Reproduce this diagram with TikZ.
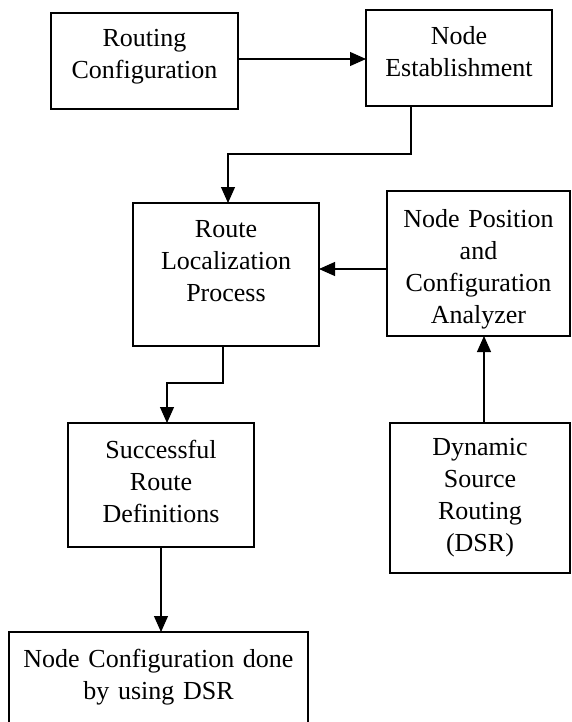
\documentclass[tikz,border=0pt]{standalone}
\usepackage{fontspec}
\setmainfont{Liberation Serif}
\usetikzlibrary{arrows.meta,calc}
\begin{document}
\begin{tikzpicture}[x=1pt,y=-1pt,
  box/.style={draw=black, line width=1.1pt, inner sep=0pt, outer sep=0pt, anchor=north west},
  lbl/.style={inner sep=0pt, anchor=base, text width=280pt, align=center,
    font=\fontsize{26}{32}\selectfont},
  arr/.style={line width=1.1pt, -{Triangle[length=16pt,width=14pt]}}]
\clip (0,0) rectangle (571,722);
\fill[white] (0,0) rectangle (571,722);
% boxes
\node[box, minimum width=187pt, minimum height=96pt] (rc) at (51,13) {};
\node[box, minimum width=186pt, minimum height=96pt] (ne) at (366,10) {};
\node[box, minimum width=186pt, minimum height=143pt] (rl) at (133,203) {};
\node[box, minimum width=183pt, minimum height=145pt] (npca) at (387,191) {};
\node[box, minimum width=186pt, minimum height=124pt] (srd) at (68,423) {};
\node[box, minimum width=180pt, minimum height=150pt] (dsr) at (390,423) {};
\node[box, minimum width=299pt, minimum height=100pt] (ncd) at (9,632) {};
% labels
\node[lbl] at ($(rc.north)+(0,34)$) {Routing\\Configuration};
\node[lbl] at ($(ne.north)+(0,35)$) {Node\\Establishment};
\node[lbl] at ($(rl.north)+(0,34)$) {Route\\Localization\\Process};
\node[lbl] at ($(npca.north)+(0,36)$) {Node Position\\and\\Configuration\\Analyzer};
\node[lbl] at ($(srd.north)+(0,35)$) {Successful\\Route\\Definitions};
\node[lbl] at ($(dsr.north)+(0,32)$) {Dynamic\\Source\\Routing\\(DSR)};
\node[lbl] at ($(ncd.north)+(0,35)$) {Node Configuration done\\by using DSR};
% connector end points
\coordinate (a1) at ($(rc.east)+(0,-2)$);
\coordinate (b1) at ($(ne.south west)+(45,0)$);
\coordinate (b2) at ($(rl.north west)+(95,0)$);
\coordinate (c1) at ($(rl.south west)+(90,0)$);
\coordinate (c2) at ($(srd.north west)+(99,0)$);
\coordinate (d1) at ($(npca.west)+(0,5.5)$);
\coordinate (e1) at ($(dsr.north west)+(94,0)$);
\coordinate (f1) at ($(srd.south west)+(93,0)$);
% connectors
\draw[arr] (a1) -- (a1 -| ne.west);
\draw[arr] (b1) -- ++(0,48) -| (b2);
\draw[arr] (c1) -- ++(0,37) -| (c2);
\draw[arr] (d1) -- (d1 -| rl.east);
\draw[arr] (e1) -- (e1 |- npca.south);
\draw[arr] (f1) -- (f1 |- ncd.north);
\end{tikzpicture}
\end{document}
